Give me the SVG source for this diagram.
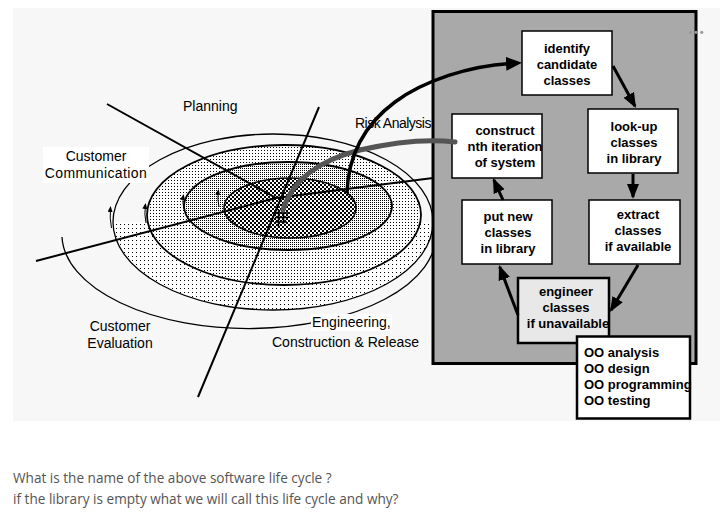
<svg xmlns="http://www.w3.org/2000/svg" width="727" height="516" viewBox="0 0 727 516">
<style>
.lbl{font-family:"Liberation Sans",Arial,sans-serif;font-size:14px;fill:#000}
.box{fill:#fff;stroke:#000;stroke-width:1.5}
.bt{font-family:"Liberation Sans",Arial,sans-serif;font-size:13px;font-weight:bold;fill:#000;text-anchor:middle}
.bl{font-family:"Liberation Sans",Arial,sans-serif;font-size:13px;font-weight:bold;fill:#000}
.ray{stroke:#000;stroke-width:2;fill:none}
.thin{stroke:#000;stroke-width:1.3;fill:none}
.ring{stroke:#000;stroke-width:1.8}
.flow{stroke:#000;stroke-width:3;fill:none;marker-end:url(#ah)}
.sm{stroke:#000;stroke-width:1;fill:none;marker-end:url(#sa)}
.q{font-family:"Open Sans",sans-serif;font-size:13.6px;fill:#555}
</style>
<defs>
<pattern id="pSparse" width="4" height="4" patternUnits="userSpaceOnUse"><rect width="4" height="4" fill="#fff"/><rect width="1" height="1" fill="#000"/></pattern>
<pattern id="pLight" width="3" height="3" patternUnits="userSpaceOnUse"><rect width="3" height="3" fill="#fff"/><rect width="1" height="1" fill="#000"/></pattern>
<pattern id="pMed" width="2" height="2" patternUnits="userSpaceOnUse"><rect width="2" height="2" fill="#fff"/><rect width="1" height="1" fill="#000"/></pattern>
<pattern id="pDense" width="4" height="4" patternUnits="userSpaceOnUse"><rect width="4" height="4" fill="#fff"/><rect width="2" height="2" fill="#000"/><rect x="2" y="2" width="2" height="2" fill="#000"/></pattern>
<clipPath id="lowerHalf"><rect x="0" y="222" width="433" height="120"/></clipPath>
<marker id="ah" markerUnits="userSpaceOnUse" markerWidth="16" markerHeight="13" refX="13" refY="6" orient="auto"><path d="M0,0 L15,6 L0,12 z" fill="#000"/></marker>
<marker id="ahBig" markerUnits="userSpaceOnUse" markerWidth="17" markerHeight="15" refX="4" refY="7" orient="auto"><path d="M0,0 L16,7 L0,14 z" fill="#000"/></marker>
<marker id="sa" markerUnits="userSpaceOnUse" markerWidth="7" markerHeight="6" refX="5" refY="2.5" orient="auto"><path d="M0,0 L6,2.5 L0,5 z" fill="#000"/></marker>
</defs>
<rect width="727" height="516" fill="#fff"/>
<rect x="13" y="8" width="707" height="413" fill="#f7f7f7"/>
<g id="spiral">
<ellipse cx="273" cy="222" rx="160" ry="88" fill="url(#pSparse)" clip-path="url(#lowerHalf)"/>
<ellipse class="ring" cx="284" cy="215" rx="137" ry="70" fill="url(#pLight)"/>
<ellipse class="ring" cx="288" cy="206" rx="104" ry="44" fill="url(#pMed)"/>
<ellipse cx="290" cy="208" rx="66" ry="30" fill="url(#pDense)" stroke="#000" stroke-width="1.5"/>
<ellipse class="thin" cx="273" cy="222" rx="160" ry="88"/>
<path class="thin" d="M62,237 A187,94 0 0 0 436,232"/>
<path class="sm" d="M111.5,228 Q109.5,219 110.5,207"/>
<path class="sm" d="M146,223 Q144,215 145.5,204"/>
<path class="sm" d="M184,209 Q182,203 183.5,195"/>
<path class="sm" d="M219,207 Q217,199 218.5,190"/>
<line class="ray" x1="107" y1="104" x2="276" y2="198"/>
<line class="ray" x1="36" y1="261" x2="276" y2="198"/>
<line class="ray" x1="276" y1="198" x2="433" y2="178"/>
<line class="ray" x1="319" y1="107" x2="198" y2="397"/>
<g stroke="#000" stroke-width="1.5"><line x1="278.5" y1="209" x2="278.5" y2="227"/><line x1="283.5" y1="209" x2="283.5" y2="224"/><line x1="275" y1="213" x2="288" y2="213"/><line x1="275" y1="217.5" x2="288" y2="217.5"/><line x1="275" y1="222" x2="287" y2="222"/></g>
</g>
<g id="labels">
<text class="lbl" x="183" y="111">Planning</text>
<text class="lbl" x="355" y="127.5" letter-spacing="-0.5">Risk Analysis</text>
<rect x="43" y="147" width="106" height="36" fill="#fff"/>
<text class="lbl" x="96" y="161" text-anchor="middle">Customer</text>
<text class="lbl" x="96" y="178" text-anchor="middle" letter-spacing="0.4">Communication</text>
<text class="lbl" x="120" y="331" text-anchor="middle">Customer</text>
<text class="lbl" x="120" y="348" text-anchor="middle">Evaluation</text>
<rect x="311" y="314" width="81" height="17" fill="#fff"/>
<text class="lbl" x="312" y="327">Engineering,</text>
<text class="lbl" x="272" y="347">Construction &amp; Release</text>
</g>
<g id="container"><rect x="433" y="11.5" width="263" height="352" fill="#a9a9a9" stroke="#000" stroke-width="3"/></g>
<g id="identify"><rect class="box" x="522" y="31" width="90" height="64"/><text class="bt" x="567" y="53">identify</text><text class="bt" x="567" y="69">candidate</text><text class="bt" x="567" y="85">classes</text></g>
<g id="construct"><rect class="box" x="452" y="114" width="90" height="64"/><text class="bt" x="505" y="135">construct</text><text class="bt" x="505" y="151">nth iteration</text><text class="bt" x="505" y="167">of system</text></g>
<g id="lookup"><rect class="box" x="588" y="109" width="90" height="64"/><text class="bt" x="634" y="131">look-up</text><text class="bt" x="634" y="147">classes</text><text class="bt" x="634" y="163">in library</text></g>
<g id="putnew"><rect class="box" x="462" y="200" width="90" height="64"/><text class="bt" x="508" y="221">put new</text><text class="bt" x="508" y="237">classes</text><text class="bt" x="508" y="253">in library</text></g>
<g id="extract"><rect class="box" x="589" y="200" width="91" height="64"/><text class="bt" x="638" y="219">extract</text><text class="bt" x="638" y="235">classes</text><text class="bt" x="638" y="251">if available</text></g>
<g id="engineer"><rect x="518" y="278" width="91" height="65" fill="#e8e8e8" stroke="#000" stroke-width="2.5"/><text class="bt" x="566" y="296">engineer</text><text class="bt" x="566" y="312">classes</text><text class="bt" x="568" y="328">if unavailable</text></g>
<g id="oo"><rect x="577" y="336.5" width="113" height="82" fill="#fff" stroke="#000" stroke-width="2.5"/><text class="bl" x="584" y="357">OO analysis</text><text class="bl" x="584" y="373">OO design</text><text class="bl" x="584" y="389">OO programming</text><text class="bl" x="584" y="405">OO testing</text></g>
<g id="connectors">
<path d="M283,210 C292,180 320,160 360,150 C395,142 430,139 455,142" fill="none" stroke="#555" stroke-width="5" stroke-linecap="round"/>
<path d="M347,193 C348,160 360,128 395,102 C425,80 470,66 510,63.5" fill="none" stroke="#000" stroke-width="3.5" marker-end="url(#ahBig)"/>
<line class="flow" x1="613" y1="66" x2="635" y2="106.2"/>
<line class="flow" x1="633" y1="174" x2="633" y2="197"/>
<line class="flow" x1="638" y1="265" x2="611" y2="310.3"/>
<line class="flow" x1="518" y1="315" x2="499.7" y2="266.9"/>
<line class="flow" x1="503" y1="200" x2="493.8" y2="179.8"/>
</g>
<g fill="#999"><circle cx="690.5" cy="32.3" r="1.6"/><circle cx="696" cy="32.3" r="1.6"/><circle cx="701.7" cy="32.3" r="1.6"/></g>
<text class="q" x="13" y="483">What is the name of the above software life cycle ?</text>
<text class="q" x="13" y="504">if the library is empty what we will call this life cycle and why?</text>
</svg>
